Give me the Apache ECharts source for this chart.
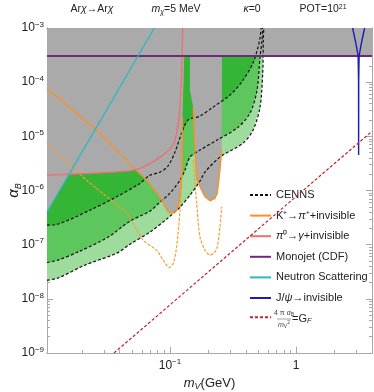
<!DOCTYPE html>
<html>
<head>
<meta charset="utf-8">
<script src="https://cdn.jsdelivr.net/npm/echarts@6/dist/echarts.min.js"></script>
<style>
  html, body { margin: 0; padding: 0; background: #fff; }
  #chart { width: 374px; height: 392px; }
</style>
</head>
<body>
<div id="chart"></div>
<script>
// plot range: m_V in GeV, alpha_B
var massMin = 0.0106, massMax = 4.0;
var alphaMin = 1e-9, alphaMax = 1e-3;
var xTickPowers = [-1, 0];
var yTickPowers = [-9, -8, -7, -6, -5, -4, -3];

// CENNS sensitivity (three dashed curves)
var cennsTopMass = [0.0106, 0.01262, 0.0232, 0.0377, 0.0578, 0.0693, 0.0833, 0.0964, 0.1096, 0.1238, 0.139, 0.173, 0.2194, 0.2994, 0.3797, 0.4558, 0.4994, 0.5179, 0.5275];
var cennsTopAlpha = [2.29e-7, 2.36e-7, 4.33e-7, 7.64e-7, 1.35e-6, 1.92e-6, 2.18e-6, 2.82e-6, 5.12e-6, 1.15e-5, 2.0e-5, 2.36e-5, 3.46e-5, 5.78e-5, 1.09e-4, 2.25e-4, 4.45e-4, 6.53e-4, 1e-3];
var cennsMidMass = [0.0106, 0.0129, 0.0193, 0.0322, 0.0482, 0.0693, 0.0833, 0.1, 0.1201, 0.1315, 0.1441, 0.173, 0.236, 0.3402, 0.4313, 0.4903, 0.5179, 0.5373, 0.5422];
var cennsMidAlpha = [4.69e-8, 5.17e-8, 7.58e-8, 1.37e-7, 2.72e-7, 4.16e-7, 6.1e-7, 8.94e-7, 1.55e-6, 2.38e-6, 4.13e-6, 5.57e-6, 8.53e-6, 1.42e-5, 2.69e-5, 7.15e-5, 2.91e-4, 6.0e-4, 1e-3];
var cennsLowMass = [0.0106, 0.0129, 0.0211, 0.0379, 0.0482, 0.0693, 0.0941, 0.1201, 0.1441, 0.173, 0.1896, 0.2492, 0.3797, 0.4558, 0.5179, 0.5441, 0.55, 0.555];
var cennsLowAlpha = [2.21e-8, 2.41e-8, 4.18e-8, 6.97e-8, 1.02e-7, 1.7e-7, 2.96e-7, 4.93e-7, 8.2e-7, 1.49e-6, 2.18e-6, 4.13e-6, 7.5e-6, 1.3e-5, 3.47e-5, 1.48e-4, 6.0e-4, 1e-3];

// existing limits
var kaonLowMass = [0.0106, 0.0278, 0.0508, 0.0657, 0.0833, 0.0947, 0.1, 0.1076, 0.1137, 0.119, 0.123, 0.1246, 0.125, 0.1256];
var kaonLowAlpha = [7.69e-5, 1.15e-5, 2.7e-6, 1.55e-6, 7.53e-7, 4.33e-7, 3.82e-7, 3.98e-7, 4.33e-7, 6.64e-7, 1.15e-6, 2.18e-6, 5.57e-6, 2.26e-5];
var kaonHighMass = [0.1531, 0.1579, 0.1628, 0.173, 0.1896, 0.2077, 0.2276, 0.2373, 0.2461, 0.2492, 0.2572];
var kaonHighAlpha = [3.33e-5, 5.57e-6, 1.69e-6, 1.17e-6, 7.64e-7, 6.44e-7, 7.13e-7, 8.82e-7, 1.79e-6, 2.38e-6, 5.57e-6];
var kaonDashLowMass = [0.0106, 0.0218, 0.0453, 0.0614, 0.0784, 0.0885, 0.0987, 0.1062, 0.113, 0.1201, 0.1238, 0.1246];
var kaonDashLowAlpha = [7.6e-6, 1.55e-6, 3.77e-7, 1.21e-7, 7.91e-8, 5.17e-8, 3.79e-8, 4.49e-8, 9.1e-8, 4.33e-7, 2.38e-6, 5.57e-6];
var kaonDashHighMass = [0.1531, 0.1628, 0.173, 0.1896, 0.2077, 0.2276, 0.2373, 0.2492, 0.2572];
var kaonDashHighAlpha = [3.64e-6, 5.83e-7, 1.39e-7, 7.91e-8, 6.39e-8, 7.36e-8, 9.1e-8, 2.13e-7, 4.99e-7];
var pionMass = [0.0106, 0.0232, 0.0482, 0.0578, 0.0693, 0.088, 0.1031, 0.1096, 0.1165, 0.1201, 0.1238, 0.1262];
var pionAlpha = [1.92e-6, 2.07e-6, 2.31e-6, 2.56e-6, 3.13e-6, 4.5e-6, 6.41e-6, 8.53e-6, 1.76e-5, 3.52e-5, 1.48e-4, 1e-3];
var monojetMass = [0.0106, 4.0];
var monojetAlpha = [3.04e-4, 3.04e-4];
var neutronMass = [0.0106, 0.0752];
var neutronAlpha = [4.0e-7, 1e-3];
var jpsiMass = [2.808, 2.886, 2.966, 3.049, 3.105, 3.128, 3.133, 3.139, 3.162, 3.22, 3.31, 3.402, 3.497];
var jpsiAlpha = [1e-3, 7.43e-4, 5.51e-4, 3.92e-4, 3.04e-4, 1.09e-4, 4.5e-6, 1.09e-4, 3.04e-4, 3.92e-4, 5.51e-4, 7.43e-4, 1e-3];
var fermiMass = [0.036, 4.0];
var fermiAlpha = [1.0e-9, 1.24e-5];

// outline of the grey (already excluded) region
var greyMass = [0.0106, 0.0106, 0.0159, 0.0232, 0.0482, 0.0532, 0.0657, 0.0833, 0.0947, 0.1, 0.1076, 0.1137, 0.119, 0.123, 0.1246, 0.125, 0.1256, 0.1299, 0.1441, 0.1441,
  0.1531, 0.1579, 0.1628, 0.173, 0.1896, 0.2077, 0.2276, 0.2373, 0.2461, 0.2492, 0.2572, 0.2587, 4.0, 4.0];
var greyAlpha = [1e-3, 4.0e-7, 2.0e-6, 2.07e-6, 2.31e-6, 2.45e-6, 1.55e-6, 7.53e-7, 4.33e-7, 3.82e-7, 3.98e-7, 4.33e-7, 6.64e-7, 1.15e-6, 2.18e-6, 5.57e-6, 2.26e-5, 3.04e-4, 3.04e-4, 7.15e-5,
  3.33e-5, 5.57e-6, 1.69e-6, 1.17e-6, 7.64e-7, 6.44e-7, 7.13e-7, 8.82e-7, 1.79e-6, 2.38e-6, 5.57e-6, 3.04e-4, 3.04e-4, 1e-3];

var FONT = "'Liberation Sans', Arial, sans-serif";
var frameColor = '#a8a8a8';
var textColor = '#222';
var L = Math.log10;

function toPts(mass, alpha) {
  return mass.map(function (m, i) { return [L(m), L(alpha[i])]; });
}

function minorValues(lo, hi) {
  var out = [];
  for (var p = Math.floor(lo); p <= Math.ceil(hi); p++) {
    for (var k = 2; k <= 9; k++) {
      var v = p + L(k);
      if (v > lo && v < hi) out.push(v);
    }
  }
  return out;
}

function majorValues(lo, hi) {
  var out = [];
  for (var p = Math.ceil(lo); p <= Math.floor(hi); p++) out.push(p);
  return out;
}

var powRich = {
  b: { fontSize: 12, fontFamily: FONT, color: textColor, lineHeight: 15 },
  e: { fontSize: 8, fontFamily: FONT, color: textColor, lineHeight: 9, verticalAlign: 'top' }
};

function powLabel(v) {
  if (v === 0) return '{b|1}';
  return '{b|10}{e|' + (v < 0 ? '\u2212' + (-v) : v) + '}';
}

function makeAxis(dim, pos, lo, hi, minor, label, extra) {
  var ticks = minor ? minorValues(lo, hi) : majorValues(lo, hi);
  var ax = {
    type: 'value', position: pos, min: lo, max: hi,
    axisLine: { show: true, onZero: false, lineStyle: { color: frameColor, width: 1 } },
    axisTick: { show: true, inside: true, length: minor ? 3 : 6, customValues: ticks, lineStyle: { color: frameColor } },
    axisLabel: { show: !!label, customValues: label || [], formatter: powLabel, rich: powRich, margin: dim === 'x' ? 5 : 3 },
    splitLine: { show: false },
    silent: true
  };
  return Object.assign(ax, extra || {});
}

function fillSeries(name, mass, alpha, color, z) {
  var pts = toPts(mass, alpha);
  return {
    name: name, type: 'custom', z: z, silent: true,
    data: pts,
    renderItem: function (params, api) {
      if (params.dataIndex !== 0) return null;
      return {
        type: 'polygon',
        shape: { points: pts.map(function (p) { return api.coord(p); }) },
        style: { fill: color }
      };
    }
  };
}

function lineSeries(name, mass, alpha, color, width, dash, z, smooth) {
  return {
    name: name, type: 'line', data: toPts(mass, alpha),
    symbol: 'none', showSymbol: false, z: z, smooth: smooth || 0,
    lineStyle: { color: color, width: width, type: dash || 'solid' },
    itemStyle: { color: color },
    silent: true
  };
}

var xLo = L(massMin), xHi = L(massMax), yLo = L(alphaMin), yHi = L(alphaMax);

var chart = echarts.init(document.getElementById('chart'), null, { renderer: 'canvas' });

var legendNames = ['CENNS', 'K+', 'pi0', 'Monojet (CDF)', 'Neutron Scattering', 'J/psi', 'GF'];
var legendText = {
  'CENNS': 'CENNS',
  'K+': 'K\u207A\u2192{i|\u03C0}\u207A+invisible',
  'pi0': '{i|\u03C0}\u2070\u2192{i|\u03B3}+invisible',
  'Monojet (CDF)': 'Monojet (CDF)',
  'Neutron Scattering': 'Neutron Scattering',
  'J/psi': 'J/{i|\u03C8}\u2192invisible',
  'GF': ''
};

var dash = [3, 2];

chart.setOption({
  animation: false,
  backgroundColor: '#fff',
  grid: { left: 47, right: 2, top: 28, bottom: 39, outerBoundsMode: 'none', containLabel: false },
  xAxis: [
    makeAxis('x', 'bottom', xLo, xHi, false, xTickPowers, {
      name: '{i|m}{s|V}{n|(GeV)}', nameLocation: 'middle', nameGap: 22, nameMoveOverlap: false,
      nameTextStyle: { rich: {
        i: { fontSize: 13, fontStyle: 'italic', fontFamily: FONT, color: textColor, lineHeight: 16 },
        s: { fontSize: 9, fontStyle: 'italic', fontFamily: FONT, color: textColor, lineHeight: 9, verticalAlign: 'bottom' },
        n: { fontSize: 13, fontFamily: FONT, color: textColor, lineHeight: 16 }
      } }
    }),
    makeAxis('x', 'bottom', xLo, xHi, true, null),
    makeAxis('x', 'top', xLo, xHi, false, null),
    makeAxis('x', 'top', xLo, xHi, true, null)
  ],
  yAxis: [
    makeAxis('y', 'left', yLo, yHi, false, yTickPowers, {
      name: '{i|\u03B1}{s|B}', nameLocation: 'middle', nameGap: 24, nameRotate: 90, nameMoveOverlap: false,
      nameTextStyle: { rich: {
        i: { fontSize: 15, fontStyle: 'italic', fontFamily: FONT, color: textColor, lineHeight: 18 },
        s: { fontSize: 9, fontStyle: 'italic', fontFamily: FONT, color: textColor, lineHeight: 9, verticalAlign: 'bottom' }
      } }
    }),
    makeAxis('y', 'left', yLo, yHi, true, null),
    makeAxis('y', 'right', yLo, yHi, false, null),
    makeAxis('y', 'right', yLo, yHi, true, null)
  ],
  legend: {
    orient: 'vertical', left: 249, top: 188, padding: 0,
    itemWidth: 21, itemHeight: 14, itemGap: 6.6,
    selectedMode: false,
    data: legendNames,
    itemStyle: { opacity: 0 },
    formatter: function (name) { return legendText[name]; },
    textStyle: {
      fontFamily: FONT, fontSize: 11, color: textColor, lineHeight: 14,
      rich: { i: { fontFamily: FONT, fontSize: 11, fontStyle: 'italic', color: textColor } }
    }
  },
  graphic: [
    { type: 'text', x: 92, y: 9, silent: true, style: { text: 'Ar{i|\u03C7}\u2192Ar{i|\u03C7}', align: 'center', verticalAlign: 'middle', fontFamily: FONT, fontSize: 10.5, fill: textColor,
      rich: { i: { fontFamily: FONT, fontSize: 10.5, fontStyle: 'italic', fill: textColor } } } },
    { type: 'text', x: 176, y: 9, silent: true, style: { text: '{i|m}{s|\u03C7}=5 MeV', align: 'center', verticalAlign: 'middle', fontFamily: FONT, fontSize: 10.5, fill: textColor,
      rich: { i: { fontFamily: FONT, fontSize: 10.5, fontStyle: 'italic', fill: textColor, lineHeight: 13 },
              s: { fontFamily: FONT, fontSize: 7, fontStyle: 'italic', fill: textColor, lineHeight: 7, verticalAlign: 'bottom' } } } },
    { type: 'text', x: 252, y: 9, silent: true, style: { text: '{i|\u03BA}=0', align: 'center', verticalAlign: 'middle', fontFamily: FONT, fontSize: 10.5, fill: textColor,
      rich: { i: { fontFamily: FONT, fontSize: 10.5, fontStyle: 'italic', fill: textColor } } } },
    { type: 'text', x: 323, y: 9, silent: true, style: { text: 'POT=10{e|21}', align: 'center', verticalAlign: 'middle', fontFamily: FONT, fontSize: 10.5, fill: textColor,
      rich: { e: { fontFamily: FONT, fontSize: 7, fill: textColor, lineHeight: 7, verticalAlign: 'top' } } } },
    // fraction 4 pi alpha_B / m_V^2 = G_F for the last legend row
    { type: 'text', x: 284, y: 313.5, silent: true, style: { text: '4 \u03C0 {i|\u03B1}{s|B}', align: 'center', verticalAlign: 'middle', fontFamily: FONT, fontSize: 7, fill: '#444',
      rich: { i: { fontFamily: FONT, fontSize: 7, fontStyle: 'italic', fill: '#444' }, s: { fontFamily: FONT, fontSize: 5, fill: '#444', verticalAlign: 'bottom', lineHeight: 5 } } } },
    { type: 'line', silent: true, shape: { x1: 277, y1: 319, x2: 291, y2: 319 }, style: { stroke: '#666', lineWidth: 0.6 } },
    { type: 'text', x: 284, y: 325, silent: true, style: { text: '{i|m}{s|V}{e|2}', align: 'center', verticalAlign: 'middle', fontFamily: FONT, fontSize: 7, fill: '#444',
      rich: { i: { fontFamily: FONT, fontSize: 7, fontStyle: 'italic', fill: '#444', lineHeight: 9 }, s: { fontFamily: FONT, fontSize: 5, fill: '#444', verticalAlign: 'bottom', lineHeight: 5 },
              e: { fontFamily: FONT, fontSize: 5, fill: '#444', verticalAlign: 'top', lineHeight: 5 } } } },
    { type: 'text', x: 292, y: 319, silent: true, style: { text: '=G{s|F}', align: 'left', verticalAlign: 'middle', fontFamily: FONT, fontSize: 11, fill: textColor,
      rich: { s: { fontFamily: FONT, fontSize: 7.5, fontStyle: 'italic', fill: textColor, verticalAlign: 'bottom', lineHeight: 7 } } } }
  ],
  series: [
    fillSeries('band low', cennsLowMass.concat([massMin]), cennsLowAlpha.concat([alphaMax]), '#9edc9e', 1),
    fillSeries('band mid', cennsMidMass.concat([massMin]), cennsMidAlpha.concat([alphaMax]), '#5dc65d', 2),
    fillSeries('band top', cennsTopMass.concat([massMin]), cennsTopAlpha.concat([alphaMax]), '#35b535', 3),
    fillSeries('excluded', greyMass, greyAlpha, '#aaaaaa', 4),
    lineSeries('K+ dashed low', kaonDashLowMass, kaonDashLowAlpha, '#ff9a2e', 1.2, [3, 1.5], 6, 0.25),
    lineSeries('K+ dashed high', kaonDashHighMass, kaonDashHighAlpha, '#ff9a2e', 1.2, [3, 1.5], 6, 0.25),
    lineSeries('CENNS', cennsTopMass, cennsTopAlpha, '#111', 1.2, dash, 7, 0.3),
    lineSeries('CENNS', cennsMidMass, cennsMidAlpha, '#111', 1.2, dash, 7, 0.3),
    lineSeries('CENNS', cennsLowMass, cennsLowAlpha, '#111', 1.2, dash, 7, 0.3),
    lineSeries('K+', kaonLowMass, kaonLowAlpha, '#ff8f1f', 1.3, null, 8),
    lineSeries('K+', kaonHighMass, kaonHighAlpha, '#ff8f1f', 1.3, null, 8),
    lineSeries('pi0', pionMass, pionAlpha, '#f26d6d', 1.3, null, 8, 0.2),
    lineSeries('Monojet (CDF)', monojetMass, monojetAlpha, '#6e2a78', 1.8, null, 8),
    lineSeries('Neutron Scattering', neutronMass, neutronAlpha, '#2cb8bd', 1.3, null, 8),
    lineSeries('J/psi', jpsiMass, jpsiAlpha, '#1c1cb0', 1.4, null, 8),
    lineSeries('GF', fermiMass, fermiAlpha, '#c4222c', 1.2, dash, 8)
  ]
});
</script>
</body>
</html>
